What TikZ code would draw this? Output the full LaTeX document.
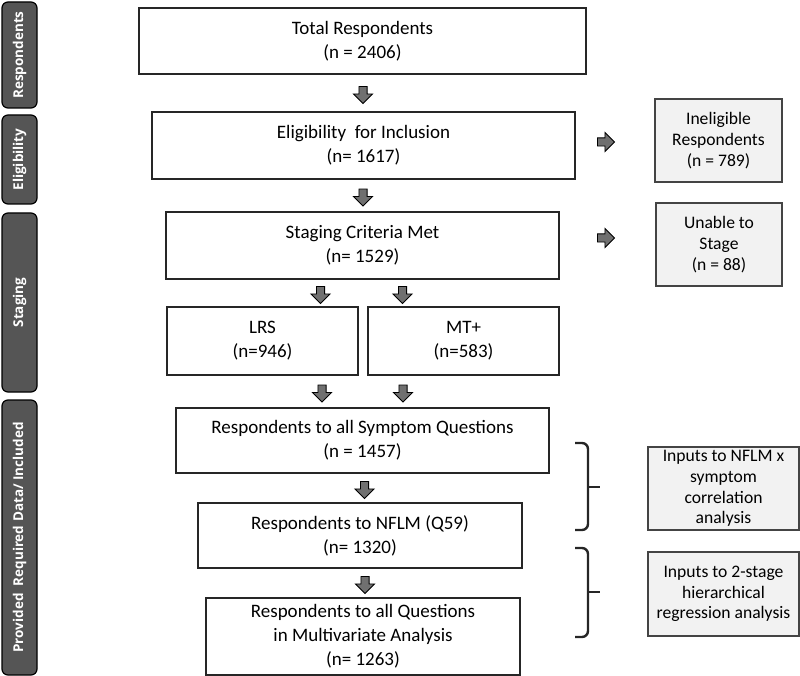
\documentclass[tikz,border=0pt]{standalone}
\usepackage{fontspec}
\setmainfont{Carlito}
\newfontfamily\tabfont{Open Sans}
\usetikzlibrary{shapes.arrows,calc}
\definecolor{tabgray}{HTML}{555555}
\definecolor{arrgray}{HTML}{707070}
\definecolor{sidefill}{HTML}{F2F2F2}
\definecolor{sidedraw}{HTML}{444444}
\begin{document}
\begin{tikzpicture}[x=1pt,y=-1pt,
  mainbox/.style={draw=black!85,line width=1.6pt,inner sep=0pt,align=center,
    font=\fontsize{19}{24}\selectfont},
  sidebox/.style={draw=sidedraw,fill=sidefill,line width=1.4pt,inner sep=0pt,align=center,
    font=\fontsize{17.6}{20.7}\selectfont},
  tab/.style={draw=black,fill=tabgray,line width=1.2pt,rounded corners=6pt,inner sep=0pt,
    minimum width=35pt},
  tabtext/.style={text=white,rotate=90,font=\tabfont\bfseries\fontsize{13.5}{16}\selectfont},
  blockarrow/.style={single arrow,draw=black,fill=arrgray,line width=0.9pt,inner sep=3.6pt,
    minimum height=17pt,single arrow head extend=5.5pt,single arrow head indent=0pt},
  downarrow/.style={blockarrow,shape border rotate=270},
  rightarrow/.style={blockarrow,shape border rotate=0},
  brace/.style={line width=2.4pt,draw=black!85,rounded corners=6pt}
]
\useasboundingbox (0,0) rectangle (800,676);
% side tabs
\node[tab,minimum height=106pt] (t1) at (19.5,55) {};
\node[tabtext] at (t1.center) {Respondents};
\node[tab,minimum height=89pt] (t2) at (19.5,159.5) {};
\node[tabtext] at (t2.center) {Eligibility};
\node[tab,minimum height=179pt] (t3) at (19.5,302.5) {};
\node[tabtext] at (t3.center) {Staging};
\node[tab,minimum height=275pt] (t4) at (19.5,537.5) {};
\node[tabtext] at (t4.center) {Provided\ \ Required Data/ Included};
% main boxes
\node[mainbox,minimum width=447pt,minimum height=66pt] (total) at (362.5,41) {Total Respondents\\(n = 2406)};
\node[mainbox,minimum width=423pt,minimum height=67pt] (elig) at (363.5,145.5) {Eligibility\ \ for Inclusion\\(n= 1617)};
\node[mainbox,minimum width=393pt,minimum height=67pt] (stage) at (362.5,245.5) {Staging Criteria Met\\(n= 1529)};
\node[mainbox,minimum width=191pt,minimum height=68pt] (lrs) at (262.5,341) {LRS\\(n=946)};
\node[mainbox,minimum width=191pt,minimum height=68pt] (mt) at (463.5,341) {MT+\\(n=583)};
\node[mainbox,minimum width=373pt,minimum height=65pt] (symp) at (362.5,440.5) {Respondents to all Symptom Questions\\(n = 1457)};
\node[mainbox,minimum width=324pt,minimum height=65pt] (nflm) at (360,535.5) {Respondents to NFLM (Q59)\\(n= 1320)};
\node[mainbox,minimum width=314pt,minimum height=77pt] (multi) at (363,636.5) {Respondents to all Questions\\in Multivariate Analysis\\(n= 1263)};
% side boxes
\node[sidebox,minimum width=127pt,minimum height=83pt] (inel) at (718.5,140.5) {Ineligible\\Respondents\\(n = 789)};
\node[sidebox,minimum width=126pt,minimum height=83pt] (unable) at (719,244.5) {Unable to\\Stage\\(n = 88)};
\node[sidebox,minimum width=151pt,minimum height=83pt] (in1) at (723.5,488.5) {Inputs to NFLM x\\symptom\\correlation\\analysis};
\node[sidebox,minimum width=151pt,minimum height=84pt] (in2) at (723.5,594) {Inputs to 2-stage\\hierarchical\\regression analysis};
% block arrows
\node[downarrow] (a1) at ($(total.south)!0.5!(elig.north)$) {};
\node[downarrow] (a2) at ($(elig.south)!0.5!(stage.north)$) {};
\node[downarrow] (a3) at ($(stage.south)!0.5!(stage.south|-lrs.north)+(-42,0)$) {};
\node[downarrow] (a4) at ($(stage.south)!0.5!(stage.south|-lrs.north)+(40,0)$) {};
\node[downarrow] (a5) at ($(lrs.south)!0.5!(lrs.south|-symp.north)+(59.5,0)$) {};
\node[downarrow] (a6) at ($(mt.south)!0.5!(mt.south|-symp.north)+(-60.5,0)$) {};
\node[downarrow] (a7) at ($(symp.south)!0.5!(symp.south|-nflm.north)+(2,0)$) {};
\node[downarrow] (a8) at ($(nflm.south)!0.5!(nflm.south|-multi.north)+(5,0)$) {};
\node[rightarrow] (r1) at (604,142) {};
\node[rightarrow] (r2) at (604,238) {};
% braces
\draw[brace] (575,443) -| (588,530) -- (575,530);
\draw[line width=2.4pt,draw=black!85] (587,487) -- (600,487);
\draw[brace] (575,548) -| (588,637) -- (575,637);
\draw[line width=2.4pt,draw=black!85] (587,592) -- (600,592);
\end{tikzpicture}
\end{document}
